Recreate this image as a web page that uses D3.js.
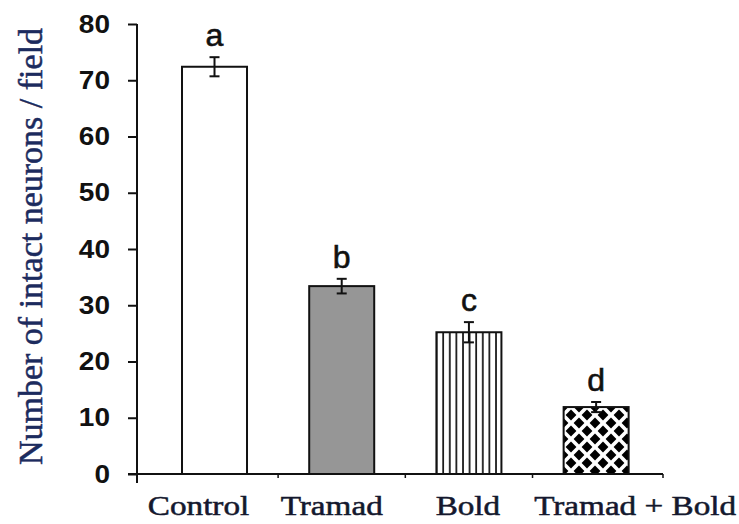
<!DOCTYPE html>
<html>
<head>
<meta charset="utf-8">
<script src="https://cdn.jsdelivr.net/npm/d3@7"></script>
<style>
  body { margin: 0; background: #fff; }
</style>
</head>
<body>
<svg id="chart"></svg>
<script>
// values
var groups = ["Control", "Tramad", "Bold", "Tramad + Bold"];
var means = [72.4, 33.4, 25.2, 11.9];
var errors = [1.7, 1.3, 1.8, 0.9];
var letters = ["a", "b", "c", "d"];
var yTicks = [0, 10, 20, 30, 40, 50, 60, 70, 80];
var yTitle = "Number of intact neurons / field";

// look of each bar + where the category text sits relative to its bar
var fills = ["#ffffff", "#969696", "url(#stripes)", "url(#diamonds)"];
var labelShift = [-16, -10, -1, 39];

var width = 739, height = 524;

var svg = d3.select("#chart")
    .attr("width", width)
    .attr("height", height);

svg.append("rect")
    .attr("width", width)
    .attr("height", height)
    .attr("fill", "#fff");

var y = d3.scaleLinear()
    .domain([0, 80])
    .range([474, 24]);

var x = d3.scaleBand()
    .domain(groups)
    .range([137, 663])
    .paddingInner(0.489)
    .paddingOuter(0.312)
    .align(0.567);

var data = groups.map(function (g, i) {
    return {name: g, mean: means[i], err: errors[i], letter: letters[i], fill: fills[i], shift: labelShift[i]};
});

// patterns
var defs = svg.append("defs");

var stripes = defs.append("pattern")
    .attr("id", "stripes")
    .attr("patternUnits", "userSpaceOnUse")
    .attr("width", 6.6)
    .attr("height", 10);
stripes.append("rect").attr("width", 6.6).attr("height", 10).attr("fill", "#fff");
stripes.append("line")
    .attr("x1", 1).attr("x2", 1)
    .attr("y1", 0).attr("y2", 10)
    .attr("stroke", "#000")
    .attr("stroke-width", 1.6);

var diamonds = defs.append("pattern")
    .attr("id", "diamonds")
    .attr("patternUnits", "userSpaceOnUse")
    .attr("x", 563)
    .attr("y", 407)
    .attr("width", 16)
    .attr("height", 16);
diamonds.append("rect").attr("width", 16).attr("height", 16).attr("fill", "#fff");
[[8, 8], [0, 0], [16, 0], [0, 16], [16, 16]].forEach(function (c) {
    var h = 5.4;
    diamonds.append("polygon")
        .attr("points", [[c[0], c[1] - h], [c[0] + h, c[1]], [c[0], c[1] + h], [c[0] - h, c[1]]].join(" "))
        .attr("fill", "#000");
});

// bars
svg.selectAll(".bar")
    .data(data)
    .enter()
    .append("rect")
    .attr("class", "bar")
    .attr("x", function (d) { return x(d.name); })
    .attr("y", function (d) { return y(d.mean); })
    .attr("width", x.bandwidth())
    .attr("height", function (d) { return y(0) - y(d.mean); })
    .attr("fill", function (d) { return d.fill; })
    .attr("stroke", "#111")
    .attr("stroke-width", 2);

// error bars
var eb = svg.selectAll(".err")
    .data(data)
    .enter()
    .append("g")
    .attr("class", "err")
    .attr("transform", function (d) { return "translate(" + (x(d.name) + x.bandwidth() / 2) + ",0)"; });

eb.append("line")
    .attr("x1", 0).attr("x2", 0)
    .attr("y1", function (d) { return y(d.mean + d.err); })
    .attr("y2", function (d) { return y(d.mean - d.err); })
    .attr("stroke", "#111")
    .attr("stroke-width", 2);

eb.selectAll(".cap")
    .data(function (d) { return [d.mean + d.err, d.mean - d.err]; })
    .enter()
    .append("line")
    .attr("class", "cap")
    .attr("x1", -5).attr("x2", 5)
    .attr("y1", function (v) { return y(v); })
    .attr("y2", function (v) { return y(v); })
    .attr("stroke", "#111")
    .attr("stroke-width", 2);

// significance letters
svg.selectAll(".letter")
    .data(data)
    .enter()
    .append("text")
    .attr("class", "letter")
    .attr("x", function (d) { return x(d.name) + x.bandwidth() / 2; })
    .attr("y", function (d) { return y(d.mean + d.err) - 11; })
    .attr("text-anchor", "middle")
    .attr("font-family", "Liberation Sans, Arial, sans-serif")
    .attr("font-size", 32)
    .attr("fill", "#111")
    .attr("stroke", "#111")
    .attr("stroke-width", 0.6)
    .text(function (d) { return d.letter; });

// y axis
var yAxis = svg.append("g")
    .attr("transform", "translate(137,0)")
    .call(d3.axisLeft(y).tickValues(yTicks).tickSize(9).tickPadding(18));

yAxis.select(".domain").remove();
yAxis.selectAll(".tick line").attr("stroke", "#111").attr("stroke-width", 2);
yAxis.selectAll(".tick text")
    .attr("x", 0)
    .attr("transform", "translate(-27,0) scale(1.12,1)")
    .attr("font-family", "Liberation Sans, Arial, sans-serif")
    .attr("font-weight", "bold")
    .attr("font-size", 25)
    .attr("fill", "#111");

svg.append("line")
    .attr("x1", 137).attr("x2", 137)
    .attr("y1", y(80))
    .attr("y2", y(0) + 9)
    .attr("stroke", "#111")
    .attr("stroke-width", 2);

// x axis
svg.append("line")
    .attr("x1", 128).attr("x2", x.range()[1])
    .attr("y1", y(0)).attr("y2", y(0))
    .attr("stroke", "#111")
    .attr("stroke-width", 2);

var bounds = groups.slice(0, -1).map(function (g) {
    return x(g) + x.bandwidth() + x.step() * x.paddingInner() / 2;
});
bounds.push(x.range()[1]);

svg.selectAll(".xtick")
    .data(bounds)
    .enter()
    .append("line")
    .attr("class", "xtick")
    .attr("x1", function (d) { return d; })
    .attr("x2", function (d) { return d; })
    .attr("y1", y(0))
    .attr("y2", y(0) + 4)
    .attr("stroke", "#111")
    .attr("stroke-width", 1.5);

svg.selectAll(".xlabel")
    .data(data)
    .enter()
    .append("text")
    .attr("class", "xlabel")
    .attr("transform", function (d) {
        return "translate(" + (x(d.name) + x.bandwidth() / 2 + d.shift) + ",515) scale(1.23,1)";
    })
    .attr("text-anchor", "middle")
    .attr("font-family", "Liberation Serif, Times New Roman, serif")
    .attr("font-size", 27)
    .attr("fill", "#14182e")
    .attr("stroke", "#14182e")
    .attr("stroke-width", 0.5)
    .text(function (d) { return d.name; });

// y title
svg.append("text")
    .attr("transform", "translate(42,246.5) rotate(-90)")
    .attr("text-anchor", "middle")
    .attr("font-family", "Liberation Serif, Times New Roman, serif")
    .attr("font-size", 34)
    .attr("fill", "#1c2b5e")
    .attr("stroke", "#1c2b5e")
    .attr("stroke-width", 0.5)
    .text(yTitle);
</script>
</body>
</html>
